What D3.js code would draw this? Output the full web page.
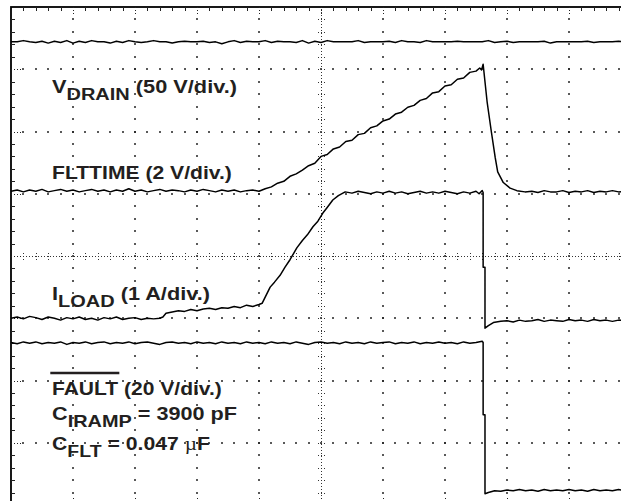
<!DOCTYPE html>
<html>
<head>
<meta charset="utf-8">
<script src="https://d3js.org/d3.v7.min.js"></script>
<style>
  html, body { margin: 0; padding: 0; background: #fff; overflow: hidden; }
  svg { display: block; }
</style>
</head>
<body>
<div id="scope"></div>
<script>
// screen is 10 x 8 divisions, values below are in divisions (0 = centre line)
var topTrace = [[0,3.44],[0.1,3.44],[0.2,3.46],[0.3,3.44],[0.4,3.43],[0.5,3.45],[0.6,3.42],[0.7,3.45],[0.8,3.43],[0.9,3.46],
  [1.0,3.42],[1.1,3.45],[1.2,3.43],[1.3,3.46],[1.4,3.44],[1.5,3.44],[1.6,3.42],[1.7,3.45],[1.8,3.43],[1.9,3.46],
  [2.0,3.44],[2.1,3.43],[2.2,3.44],[2.3,3.46],[2.4,3.44],[2.5,3.44],[2.6,3.42],[2.7,3.44],[2.8,3.45],[2.9,3.44],
  [3.0,3.44],[3.1,3.45],[3.2,3.43],[3.3,3.44],[3.4,3.41],[3.5,3.44],[3.6,3.46],[3.7,3.43],[3.8,3.45],[3.9,3.44],
  [4.0,3.44],[4.1,3.46],[4.2,3.43],[4.3,3.45],[4.4,3.44],[4.5,3.44],[4.6,3.43],[4.7,3.46],[4.8,3.42],[4.9,3.45],
  [5.0,3.43],[5.1,3.46],[5.2,3.44],[5.3,3.44],[5.4,3.44],[5.5,3.44],[5.6,3.46],[5.7,3.43],[5.8,3.44],[5.9,3.44],
  [6.0,3.44],[6.1,3.45],[6.2,3.43],[6.3,3.46],[6.4,3.44],[6.5,3.44],[6.6,3.43],[6.7,3.46],[6.8,3.44],[6.9,3.44],
  [7.0,3.44],[7.1,3.44],[7.2,3.45],[7.3,3.44],[7.4,3.44],[7.5,3.44],[7.6,3.44],[7.7,3.46],[7.8,3.43],[7.9,3.44],
  [8.0,3.45],[8.1,3.43],[8.2,3.44],[8.3,3.44],[8.4,3.44],[8.5,3.44],[8.6,3.45],[8.7,3.42],[8.8,3.44],[8.9,3.44],
  [9.0,3.44],[9.1,3.44],[9.2,3.44],[9.3,3.45],[9.4,3.43],[9.5,3.44],[9.6,3.44],[9.7,3.44],[9.8,3.45],[9.9,3.44],[10.0,3.44]];

var fltTime = [[0,1.04],[0.1,1.06],[0.2,1.03],[0.3,1.06],[0.4,1.04],[0.5,1.07],[0.6,1.03],[0.7,1.05],[0.8,1.07],[0.9,1.04],
  [1.0,1.06],[1.1,1.03],[1.2,1.05],[1.3,1.07],[1.4,1.04],[1.5,1.06],[1.6,1.03],[1.7,1.06],[1.8,1.04],[1.9,1.08],
  [2.0,1.04],[2.1,1.06],[2.2,1.03],[2.3,1.05],[2.4,1.07],[2.5,1.04],[2.6,1.06],[2.7,1.05],[2.8,1.03],[2.9,1.06],
  [3.0,1.04],[3.1,1.07],[3.2,1.05],[3.3,1.03],[3.4,1.06],[3.5,1.04],[3.6,1.06],[3.7,1.03],[3.8,1.05],[3.9,1.06],[4.0,1.04],
  [4.1,1.08],[4.2,1.11],[4.3,1.17],[4.4,1.20],[4.5,1.28],[4.6,1.32],[4.7,1.38],[4.8,1.45],[4.9,1.49],
  [5.0,1.60],[5.1,1.63],[5.2,1.72],[5.3,1.75],[5.4,1.84],[5.5,1.86],[5.6,1.95],[5.7,1.97],[5.8,2.06],[5.9,2.09],
  [6.0,2.17],[6.1,2.20],[6.2,2.28],[6.3,2.31],[6.4,2.39],[6.5,2.42],[6.6,2.50],[6.7,2.53],[6.8,2.62],[6.9,2.64],
  [7.0,2.73],[7.1,2.75],[7.2,2.84],[7.3,2.86],[7.4,2.95],[7.5,2.97],[7.56,3.02],[7.59,2.99],[7.615,3.08],
  [7.68,2.47],[7.75,1.98],[7.81,1.58],[7.85,1.35],[7.94,1.18],[8.05,1.09],[8.16,1.05],[8.29,1.03],
  [8.4,1.04],[8.5,1.02],[8.6,1.05],[8.7,1.03],[8.8,1.03],[8.9,1.05],[9.0,1.02],[9.1,1.04],[9.2,1.03],[9.3,1.05],
  [9.4,1.02],[9.5,1.04],[9.6,1.03],[9.7,1.05],[9.8,1.03],[9.9,1.04],[10.0,1.03]];

var iLoad = [[0,-1.00],[0.1,-0.98],[0.2,-1.01],[0.3,-0.97],[0.4,-0.99],[0.5,-1.02],[0.6,-0.98],[0.7,-1.00],[0.8,-1.03],[0.9,-0.99],
  [1.0,-1.01],[1.1,-0.98],[1.2,-1.02],[1.3,-1.00],[1.4,-1.03],[1.5,-0.99],[1.6,-1.01],[1.7,-0.98],[1.8,-1.02],[1.9,-1.00],
  [2.0,-0.99],[2.1,-1.02],[2.2,-1.00],[2.3,-1.01],[2.4,-1.00],[2.45,-0.98],[2.5,-0.92],[2.6,-0.90],[2.7,-0.88],[2.8,-0.89],
  [2.9,-0.86],[3.0,-0.88],[3.1,-0.85],[3.2,-0.84],[3.3,-0.86],[3.4,-0.83],[3.5,-0.84],[3.6,-0.81],[3.7,-0.83],[3.8,-0.79],
  [3.9,-0.81],[4.0,-0.78],[4.05,-0.76],
  [4.18,-0.50],[4.25,-0.42],[4.34,-0.31],[4.42,-0.18],[4.5,-0.06],[4.61,0.13],[4.7,0.25],[4.78,0.34],[4.87,0.47],
  [4.95,0.56],[5.03,0.69],[5.1,0.78],[5.19,0.90],[5.28,0.97],[5.39,1.03],
  [5.5,1.01],[5.6,1.04],[5.7,1.02],[5.8,1.00],[5.9,1.03],[6.0,1.01],[6.1,1.04],[6.2,1.01],[6.3,1.03],[6.4,1.00],
  [6.5,1.02],[6.6,1.04],[6.7,1.01],[6.8,1.03],[6.9,1.01],[7.0,1.04],[7.1,1.02],[7.2,1.00],[7.3,1.03],[7.4,1.01],
  [7.5,1.04],[7.55,1.00],[7.6,1.05],[7.615,1.02],
  [7.615,-0.18],[7.645,-0.18],[7.645,-1.16],[7.7,-1.12],[7.78,-1.07],[7.9,-1.05],
  [8.0,-1.04],[8.1,-1.06],[8.2,-1.03],[8.3,-1.05],[8.4,-1.04],[8.5,-1.02],[8.6,-1.05],[8.7,-1.03],[8.8,-1.04],[8.9,-1.05],
  [9.0,-1.02],[9.1,-1.04],[9.2,-1.03],[9.3,-1.05],[9.4,-1.02],[9.5,-1.04],[9.6,-1.03],[9.7,-1.05],[9.8,-1.03],[9.9,-1.04],[10.0,-1.03]];

var fault = [[0,-1.39],[0.1,-1.41],[0.2,-1.38],[0.3,-1.40],[0.4,-1.38],[0.5,-1.41],[0.6,-1.39],[0.7,-1.40],[0.8,-1.38],[0.9,-1.42],
  [1.0,-1.39],[1.1,-1.40],[1.2,-1.38],[1.3,-1.41],[1.4,-1.39],[1.5,-1.38],[1.6,-1.41],[1.7,-1.39],[1.8,-1.40],[1.9,-1.38],
  [2.0,-1.41],[2.1,-1.39],[2.2,-1.38],[2.3,-1.40],[2.4,-1.42],[2.5,-1.39],[2.6,-1.38],[2.7,-1.40],[2.8,-1.39],[2.9,-1.41],
  [3.0,-1.38],[3.1,-1.40],[3.2,-1.39],[3.3,-1.41],[3.4,-1.38],[3.5,-1.40],[3.6,-1.39],[3.7,-1.41],[3.8,-1.38],[3.9,-1.40],
  [4.0,-1.39],[4.1,-1.41],[4.2,-1.38],[4.3,-1.40],[4.4,-1.39],[4.5,-1.41],[4.6,-1.38],[4.7,-1.40],[4.8,-1.42],[4.9,-1.39],
  [5.0,-1.38],[5.1,-1.40],[5.2,-1.39],[5.3,-1.41],[5.4,-1.38],[5.5,-1.40],[5.6,-1.39],[5.7,-1.41],[5.8,-1.38],[5.9,-1.40],
  [6.0,-1.39],[6.1,-1.38],[6.2,-1.41],[6.3,-1.39],[6.4,-1.40],[6.5,-1.38],[6.6,-1.41],[6.7,-1.39],[6.8,-1.40],[6.9,-1.38],
  [7.0,-1.40],[7.1,-1.39],[7.2,-1.41],[7.3,-1.38],[7.4,-1.40],[7.5,-1.39],[7.6,-1.37],[7.615,-1.39],
  [7.615,-2.55],[7.645,-2.55],[7.645,-3.82],[7.7,-3.80],[7.8,-3.77],
  [7.9,-3.78],[8.0,-3.76],[8.1,-3.77],[8.2,-3.75],[8.3,-3.77],[8.4,-3.76],[8.5,-3.78],[8.6,-3.75],[8.7,-3.77],[8.8,-3.76],
  [8.9,-3.77],[9.0,-3.75],[9.1,-3.77],[9.2,-3.76],[9.3,-3.78],[9.4,-3.75],[9.5,-3.77],[9.6,-3.76],[9.7,-3.77],[9.8,-3.75],[9.9,-3.77],[10.0,-3.76]];

var traces = [topTrace, fltTime, iLoad, fault];

// label lines: parts of text, sub = subscript
var labelLines = [
  {parts: [{s: "V"}, {s: "DRAIN", sub: true}, {s: " (50 V/div.)"}], x: 52, y: 93, w: 185},
  {parts: [{s: "FLTTIME (2 V/div.)"}], x: 52, y: 179, w: 180},
  {parts: [{s: "I"}, {s: "LOAD", sub: true}, {s: " (1 A/div.)"}], x: 52, y: 300, w: 158},
  {parts: [{s: "FAULT", over: true}, {s: " (20 V/div.)"}], x: 52, y: 395, w: 170},
  {parts: [{s: "C"}, {s: "IRAMP", sub: true}, {s: " = 3900 pF"}], x: 52, y: 420, w: 185},
  {parts: [{s: "C"}, {s: "FLT", sub: true}, {s: " = 0.047 "}, {s: "\u00b5", mu: true}, {s: "F"}], x: 52, y: 450, w: 158}
];

var width = 621, height = 501;
var ink = "#231f20";

var svg = d3.select("#scope").append("svg")
  .attr("width", width)
  .attr("height", height);

svg.append("rect").attr("width", width).attr("height", height).attr("fill", "#fff");

var x = d3.scaleLinear().domain([0, 10]).range([11, 631]);
var y = d3.scaleLinear().domain([-4, 4]).range([505, 7]);

var minorX = d3.range(0, 10.001, 0.2);
var minorY = d3.range(-4, 4.001, 0.2);
function isMajor(v) { return Math.abs(v - Math.round(v)) < 1e-6; }
function px(v) { return Math.round(v); }

var grid = svg.append("g").attr("fill", "#222").attr("shape-rendering", "crispEdges");

// dotted major lines
[1, 2, 3, 4, 6, 7, 8, 9].forEach(function(t) {
  grid.selectAll(null).data(minorY.slice(1, -1)).enter().append("rect")
    .attr("x", px(x(t)) - 1).attr("y", function(v) { return px(y(v)) - 1; })
    .attr("width", 2).attr("height", 2)
    .attr("fill-opacity", 0.75);
});
[-3, -2, -1, 1, 2, 3].forEach(function(v) {
  grid.selectAll(null).data(minorX.slice(1, -1)).enter().append("rect")
    .attr("x", function(t) { return px(x(t)) - 1; }).attr("y", px(y(v)) - 1)
    .attr("width", 2).attr("height", 2)
    .attr("fill-opacity", 0.75);
});

// centre crosshair
var cross = svg.append("g").attr("stroke", "#333").attr("stroke-width", 1)
  .attr("stroke-dasharray", "1,2").attr("shape-rendering", "crispEdges");
cross.append("line").attr("x1", x(0)).attr("x2", x(10)).attr("y1", px(y(0)) + 0.5).attr("y2", px(y(0)) + 0.5);
cross.append("line").attr("x1", px(x(5)) + 0.5).attr("x2", px(x(5)) + 0.5).attr("y1", y(-4)).attr("y2", y(4));
cross.selectAll(null).data(minorX.slice(1, -1)).enter().append("line")
  .attr("x1", function(t) { return px(x(t)) + 0.5; }).attr("x2", function(t) { return px(x(t)) + 0.5; })
  .attr("y1", px(y(0)) - 3).attr("y2", px(y(0)) + 4);
cross.selectAll(null).data(minorY.slice(1, -1)).enter().append("line")
  .attr("y1", function(v) { return px(y(v)) + 0.5; }).attr("y2", function(v) { return px(y(v)) + 0.5; })
  .attr("x1", px(x(5)) - 3).attr("x2", px(x(5)) + 4);

// frame with ticks
svg.append("rect")
  .attr("x", x(0)).attr("y", y(4))
  .attr("width", x(10) - x(0)).attr("height", y(-4) - y(4))
  .attr("fill", "none").attr("stroke", "#000").attr("stroke-width", 1.8);
var ticks = svg.append("g").attr("stroke", "#222").attr("stroke-width", 1.2).attr("shape-rendering", "crispEdges");
ticks.selectAll(null).data(minorX.slice(1, -1)).enter().append("line")
  .attr("x1", function(t) { return px(x(t)) + 0.5; }).attr("x2", function(t) { return px(x(t)) + 0.5; })
  .attr("y1", y(4)).attr("y2", function(t) { return y(4) + (isMajor(t) ? 8 : 4); })
  .attr("stroke-dasharray", function(t) { return isMajor(t) ? "1,2" : null; });
ticks.selectAll(null).data(minorX.slice(1, -1)).enter().append("line")
  .attr("x1", function(t) { return px(x(t)) + 0.5; }).attr("x2", function(t) { return px(x(t)) + 0.5; })
  .attr("y1", y(-4)).attr("y2", function(t) { return y(-4) - (isMajor(t) ? 8 : 4); })
  .attr("stroke-dasharray", function(t) { return isMajor(t) ? "1,2" : null; });
ticks.selectAll(null).data(minorY.slice(1, -1)).enter().append("line")
  .attr("y1", function(v) { return px(y(v)) + 0.5; }).attr("y2", function(v) { return px(y(v)) + 0.5; })
  .attr("x1", x(0)).attr("x2", function(v) { return x(0) + (isMajor(v) ? 10 : 4); })
  .attr("stroke-dasharray", function(v) { return isMajor(v) ? "1,2" : null; });

// traces
var line = d3.line()
  .x(function(d) { return x(d[0]); })
  .y(function(d) { return y(d[1]); });

svg.append("g")
  .selectAll("path")
  .data(traces)
  .enter()
  .append("path")
  .attr("d", line)
  .attr("fill", "none")
  .attr("stroke", "#000")
  .attr("stroke-width", 1.5)
  .attr("stroke-linejoin", "round");

// labels
labelLines.forEach(function(l) {
  var g = svg.append("g").attr("transform", "translate(" + l.x + "," + l.y + ")");
  var text = g.append("text")
    .attr("font-family", "'Liberation Sans', Arial, Helvetica, sans-serif")
    .attr("font-weight", "bold")
    .attr("fill", ink);
  var shift = 0, overSpan = null;
  l.parts.forEach(function(p) {
    var dy = (p.sub ? 7 : 0) - shift;
    shift = p.sub ? 7 : 0;
    var ts = text.append("tspan")
      .attr("font-size", p.sub ? 17 : 18.5)
      .attr("dy", dy)
      .text(p.s);
    if (p.mu) ts.attr("font-family", "'Liberation Serif', 'DejaVu Serif', serif").attr("font-weight", "normal");
    if (p.over) overSpan = ts;
  });
  var w = text.node().getComputedTextLength();
  g.attr("transform", "translate(" + l.x + "," + l.y + ") scale(" + (l.w / w) + ",1)");
  if (overSpan) {
    var ow = overSpan.node().getComputedTextLength();
    g.append("line")
      .attr("x1", -1.5).attr("x2", ow + 1)
      .attr("y1", -22).attr("y2", -22)
      .attr("stroke", ink).attr("stroke-width", 2.4);
  }
});
</script>
</body>
</html>
